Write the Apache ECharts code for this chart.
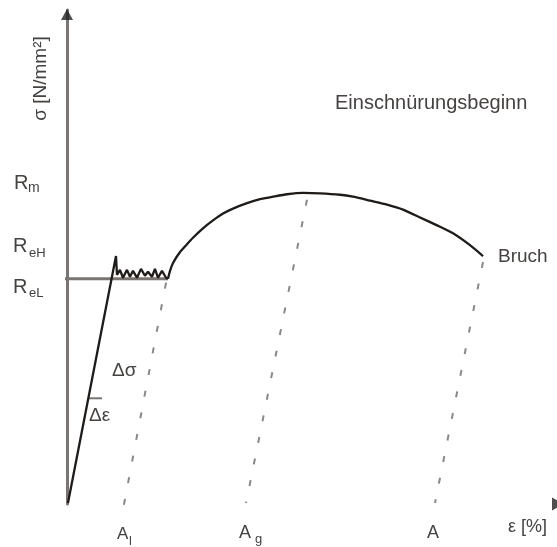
<!DOCTYPE html>
<html><head><meta charset="utf-8">
<script src="https://cdn.jsdelivr.net/npm/echarts@6/dist/echarts.min.js"></script>
<style>html,body{margin:0;padding:0;background:#fff}#c{width:557px;height:547px}</style>
</head><body><div id="c"></div>
<script>
// stress levels (N/mm², schematic)
const Rm = 315, ReH = 251, ReL = 228;
// elastic range
const elasticX = [0.1, 5.04];
const elasticY = [1, 251];
// Lüders range (yield plateau)
const luedersX = [5.04,5.14,5.45,5.76,6.17,6.48,6.79,7.20,7.61,8.02,8.33,8.74,9.05,9.36,9.77,10.19,10.39];
const luedersY = [251,232,237,229,237,230,236,229,238,231,235,230,238,229,236,229,228];
// strain hardening up to fracture
const hardX = [10.39,10.60,10.91,11.63,12.35,12.96,13.99,15.02,16.05,17.08,18.52,19.86,21.19,22.63,24.28,26.03,28.09,29.42,31.17,32.92,34.57,36.32,38.07,39.71,41.46,42.80];
const hardY = [228,236,244,255,263,269.5,279,287,294,299,304.5,308.5,311,313.5,315,314.5,313,311,307,303,298,290,282,274,262,251];
// unloading lines (parallel to elastic line)
const unload1X = [10.19, 5.56], unload1Y = [224, -16];
const unload2X = [24.69, 18.42], unload2Y = [308, 1];
const unload3X = [42.80, 37.86], unload3Y = [245, 1];
// ReL marker line, Δε tick
const relX = [-1.44, 10.39];
const deltaX = [2.16, 3.60], deltaY = 107;
const xMax = 50, yMax = 500;

const zip = (a, b) => a.map((v, i) => [v, Array.isArray(b) ? b[i] : b]);
const curve = zip(elasticX, elasticY).concat(zip(luedersX, luedersY).slice(1));

const chart = echarts.init(document.getElementById('c'), null, {renderer: 'canvas'});
const FF = '"Liberation Sans", Arial, sans-serif';
const T = (x, base, str, fs, extra) => Object.assign({
  type: 'text', x: x, y: base - 0.35 * fs, silent: true,
  style: {text: str, fontSize: fs, fontFamily: FF, fill: '#454240', align: 'left', verticalAlign: 'middle'}
}, extra || {});
const dashStyle = {color: '#8c8884', width: 2, type: [6, 16]};
const lineSeries = (data, style, z) => ({
  type: 'line', data: data, symbol: 'none', silent: true, clip: false,
  lineStyle: style, z: z || 2, animation: false
});

chart.setOption({
  animation: false,
  backgroundColor: '#ffffff',
  grid: {left: 67, right: 4, top: 10, bottom: 43},
  xAxis: {type: 'value', min: 0, max: xMax, axisLine: {show: false}, axisTick: {show: false},
          axisLabel: {show: false}, splitLine: {show: false}},
  yAxis: {type: 'value', min: 0, max: yMax, axisLine: {show: true, lineStyle: {color: '#7a7570', width: 3}},
          axisTick: {show: false}, axisLabel: {show: false}, splitLine: {show: false}},
  series: [
    lineSeries(zip(relX, [ReL, ReL]), {color: '#7a7570', width: 3}, 1),
    lineSeries(zip(unload1X, unload1Y), dashStyle, 1),
    lineSeries(zip(unload2X, unload2Y), dashStyle, 1),
    lineSeries(zip(unload3X, unload3Y), dashStyle, 1),
    lineSeries(zip(deltaX, deltaY), {color: '#7a7570', width: 2}, 1),
    lineSeries(curve, {color: '#1e1b18', width: 2.3}, 3),
    Object.assign(lineSeries(zip(hardX, hardY), {color: '#1e1b18', width: 2.3}, 3), {smooth: 0.2}),
    {type: 'scatter', silent: true, clip: false, animation: false, z: 5,
     data: [[0, yMax]], symbol: 'triangle', symbolSize: [12, 11], symbolOffset: [0, 4.5],
     itemStyle: {color: '#222'}},
    {type: 'scatter', silent: true, clip: false, animation: false, z: 5,
     data: [[xMax, 0]], symbol: 'triangle', symbolRotate: -90, symbolSize: [13, 12], symbolOffset: [5, 0],
     itemStyle: {color: '#222'}}
  ],
  graphic: [
    T(14, 190, 'R', 20), T(28, 193, 'm', 14),
    T(13, 253, 'R', 20), T(29, 258, 'eH', 13),
    T(13, 294, 'R', 20), T(29, 298, 'eL', 13),
    {type: 'text', x: 41, y: 78.5, rotation: Math.PI / 2, silent: true,
     style: {text: 'σ [N/mm²]', fontSize: 19, fontFamily: FF, fill: '#454240', align: 'center', verticalAlign: 'middle'}},
    T(335, 110, 'Einschnürungsbeginn', 20),
    T(498, 263, 'Bruch', 19),
    T(112, 377, 'Δσ', 19),
    T(89, 422, 'Δε', 19),
    T(117, 540, 'A', 17), T(129, 546, 'l', 13),
    T(239, 539, 'A', 18), T(255, 544, 'g', 13),
    T(427, 539, 'A', 18),
    T(508, 533, 'ε [%]', 18)
  ]
});
</script>
</body></html>
